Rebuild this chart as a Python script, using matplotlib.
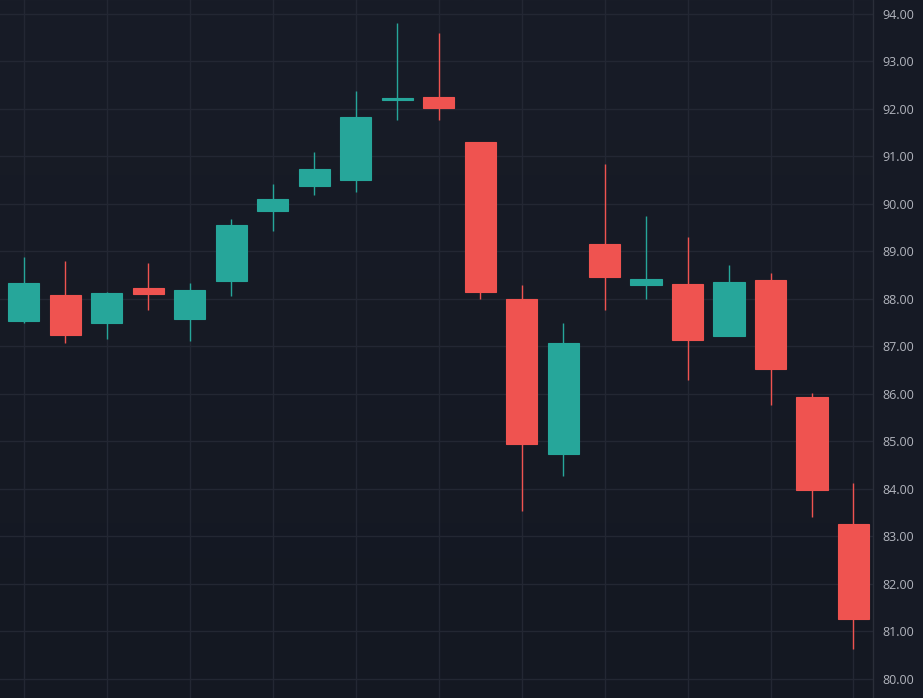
import numpy as np
import matplotlib
matplotlib.use("Agg")
import matplotlib.pyplot as plt

# 蜡烛图数据 (开, 高, 低, 收)
opens = [87.53, 88.09, 87.49, 88.22, 87.58, 88.37, 89.85, 90.38, 90.51, 92.18, 92.25,
         91.30, 88.00, 84.73, 89.16, 88.29, 88.31, 87.22, 88.39, 85.93, 83.26]
highs = [88.88, 88.79, 88.15, 88.75, 88.34, 89.68, 90.42, 91.09, 92.37, 93.80, 93.61,
         91.30, 88.29, 87.49, 90.83, 89.74, 89.31, 88.71, 88.54, 86.01, 84.11]
lows = [87.48, 87.07, 87.15, 87.77, 87.11, 88.05, 89.42, 90.19, 90.24, 91.77, 91.77,
        87.99, 83.53, 84.26, 87.77, 88.00, 86.28, 87.22, 85.77, 83.41, 80.63]
closes = [88.33, 87.24, 88.12, 88.11, 88.19, 89.56, 90.10, 90.74, 91.84, 92.24, 92.03,
          88.14, 84.94, 87.06, 88.46, 88.41, 87.13, 88.36, 86.53, 83.97, 81.25]
y_ticks = np.arange(80, 95)

UP = "#26a69a"
DOWN = "#ef5350"
BG = "#161a25"
GRID = "#232733"

o = np.array(opens)
h = np.array(highs)
l = np.array(lows)
c = np.array(closes)
x = np.arange(len(o))
colors = np.where(c >= o, UP, DOWN)

fig = plt.figure(figsize=(9.23, 6.98), dpi=100, facecolor=BG)
ax = fig.add_axes([0, 0, 873 / 923, 1])
ax.set_facecolor(BG)

# 背景渐变 (上浅下深)
grad = np.linspace(0, 1, 256).reshape(-1, 1)
ax.imshow(grad, extent=[0, 1, 0, 1], transform=ax.transAxes, aspect="auto",
          cmap=matplotlib.colors.LinearSegmentedColormap.from_list("bg", ["#141822", "#181c27"]),
          origin="lower", zorder=0)

# 影线和实体
ax.vlines(x, l, h, colors=colors, linewidth=1.0, zorder=3)
bottoms = np.minimum(o, c)
heights = np.maximum(np.abs(c - o), 0.02)
ax.bar(x, heights, bottom=bottoms, width=0.75, color=colors, edgecolor=colors,
       linewidth=0.8, zorder=4)

ax.set_xlim(-0.571, 20.47)
ax.set_ylim(79.59, 94.295)

ax.set_xticks(np.arange(0, 21, 2))
ax.set_xticklabels([])
ax.set_yticks(y_ticks)
ax.set_yticklabels(["%.2f" % v for v in y_ticks])
ax.yaxis.tick_right()
ax.tick_params(axis="both", length=0)
ax.tick_params(axis="y", colors="#b2b5be", labelsize=9, pad=7)
for lab in ax.get_yticklabels():
    lab.set_family(["Open Sans", "DejaVu Sans"])

ax.grid(True, color=GRID, linewidth=1.0, zorder=1)
ax.set_axisbelow(True)
for side in ["top", "left", "bottom"]:
    ax.spines[side].set_visible(False)
ax.spines["right"].set_color("#2a2e39")
ax.spines["right"].set_linewidth(1.0)

fig.savefig("out.png", dpi=100, facecolor=BG)
